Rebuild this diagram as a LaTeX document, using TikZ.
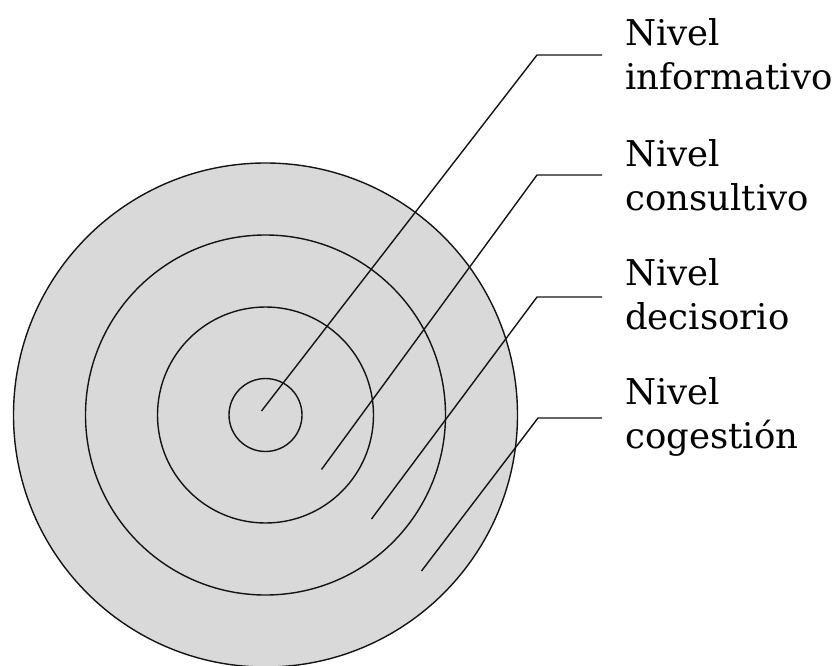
\documentclass[tikz,border=0pt]{standalone}
\usepackage{fontspec}
\setmainfont{DejaVu Serif}
\definecolor{ringfill}{HTML}{D9D9D9}
\definecolor{ink}{HTML}{141414}
\begin{document}
\begin{tikzpicture}[x=1pt,y=-1pt,
  ring/.style={draw=ink,line width=1.4pt},
  leader/.style={draw=ink,line width=1.4pt,line join=miter},
  lbl/.style={anchor=base west,inner sep=0pt,align=left,font=\fontsize{35.5}{44}\selectfont}]
\useasboundingbox (0,0) rectangle (840,666);
\coordinate (c) at (265.5,415);
\fill[ringfill] (c) circle[radius=252];
\draw[ring] (c) circle[radius=252];
\draw[ring] (c) circle[radius=180];
\draw[ring] (c) circle[radius=108];
\draw[ring] (c) circle[radius=36.5];
% leader points
\coordinate (e1) at (261.5,411);
\coordinate (k1) at (537,55);
\coordinate (h1) at (602,55);
\coordinate (e2) at (321.5,469.5);
\coordinate (k2) at (537,175);
\coordinate (h2) at (602,175);
\coordinate (e3) at (371.5,519);
\coordinate (k3) at (537,297);
\coordinate (h3) at (602,297);
\coordinate (e4) at (421.5,571);
\coordinate (k4) at (538,418);
\coordinate (h4) at (602,418);
\draw[leader] (e1) -- (k1) -- (h1);
\draw[leader] (e2) -- (k2) -- (h2);
\draw[leader] (e3) -- (k3) -- (h3);
\draw[leader] (e4) -- (k4) -- (h4);
\node[lbl] (l1) at (625,90) {Nivel\\informativo};
\node[lbl] (l2) at (625,210) {Nivel\\consultivo};
\node[lbl] (l3) at (625,329) {Nivel\\decisorio};
\node[lbl] (l4) at (625,448) {Nivel\\cogestión};
\end{tikzpicture}
\end{document}
